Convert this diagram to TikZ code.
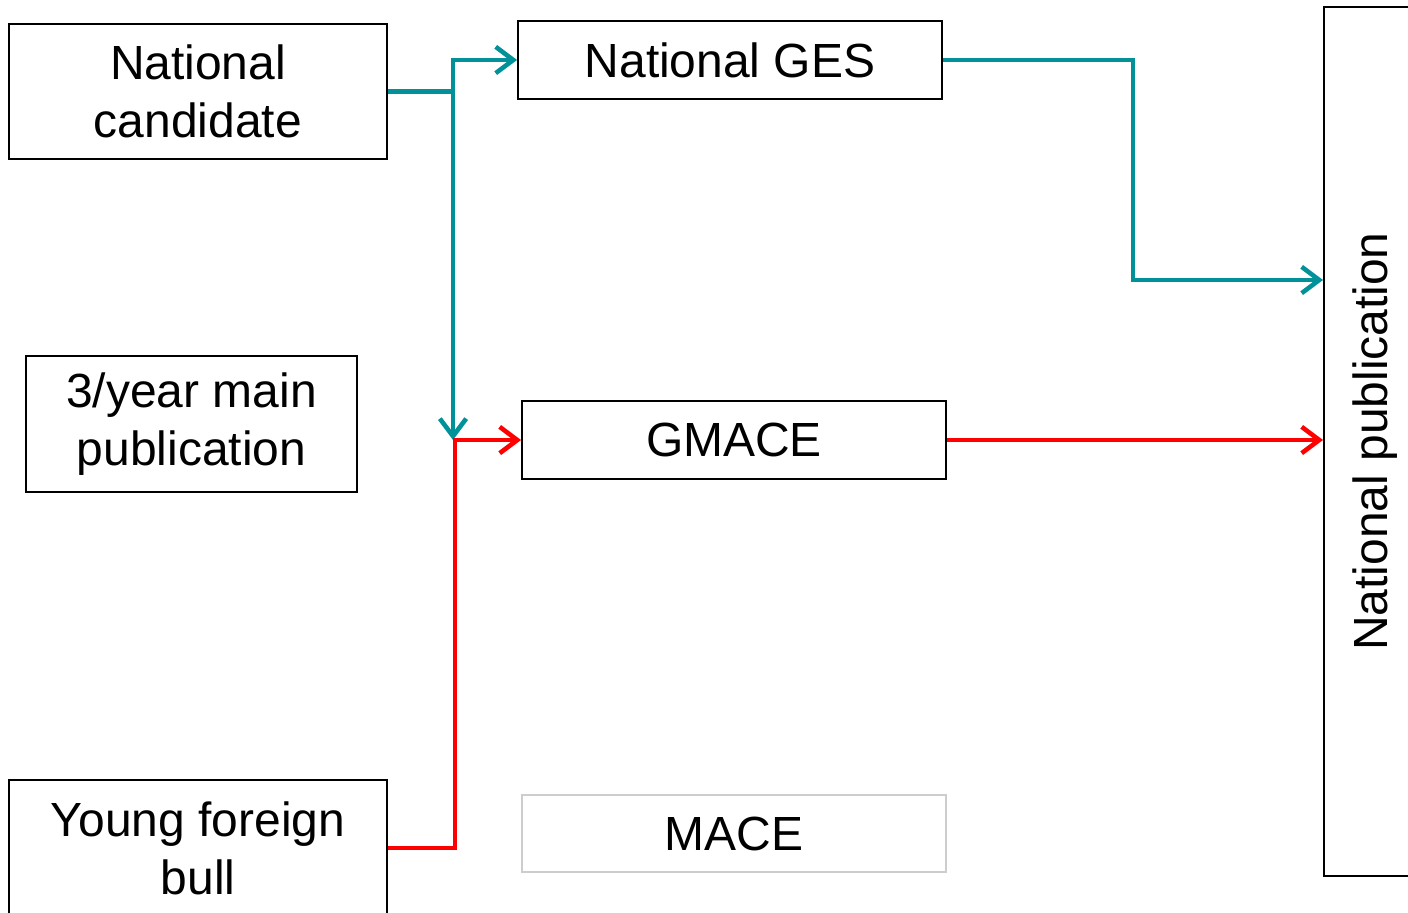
\documentclass[tikz,border=0pt]{standalone}
\usepackage{fontspec}
\setmainfont{Liberation Sans}
\usetikzlibrary{arrows.meta}
\definecolor{gesteal}{RGB}{0,146,152}
\definecolor{macered}{RGB}{255,0,0}
\definecolor{macegray}{RGB}{205,205,205}
\tikzset{
  box/.style={draw, line width=1.1pt, align=center,
              font=\fontsize{27.3pt}{33pt}\selectfont, inner sep=0pt},
  flow/.style={line width=2.6pt,
               -{Straight Barb[length=10pt, width=15pt, line width=2.6pt]}},
  plain/.style={line width=2.6pt}
}
\begin{document}
\begin{tikzpicture}[x=0.02cm, y=-0.02cm]
        \useasboundingbox (0,0) rectangle (1408,912);
        \node [box, minimum width=7.56cm, minimum height=2.7cm] (cand) at (198,91.5) {National\\candidate};
        \node [box, minimum width=6.62cm, minimum height=2.72cm] (main) at (191.5,424) {3/year main\\publication};
        \node [box, minimum width=7.56cm, minimum height=2.72cm] (bull) at (198,848) {Young foreign\\bull};
        \node [box, minimum width=8.48cm, minimum height=1.56cm] (ges) at (730,60) {National GES};
        \node [box, minimum width=8.48cm, minimum height=1.56cm] (gmace) at (734,440) {GMACE};
        \node [box, draw=macegray, minimum width=8.48cm, minimum height=1.54cm] (mace) at (734,833.5) {MACE};
        \node [box, rotate=90, minimum width=17.38cm, minimum height=2.04cm] (pub) at (1375,441.5) {National publication};
        \coordinate (split) at (453,91.5);
        \coordinate (join) at (455,440);
        \coordinate (bend) at (1133,280);
        \draw [plain, gesteal] (cand.east) -- (split);
        \draw [flow, gesteal] (split) |- (ges.west);
        \draw [flow, gesteal] (split) -- (split |- join);
        \draw [flow, gesteal] (ges.east) -| (bend) -- (bend -| pub.north);
        \draw [flow, macered] (bull.east) -| (join) -- (gmace.west);
        \draw [flow, macered] (gmace.east) -- (gmace.east -| pub.north);
\end{tikzpicture}
\end{document}
